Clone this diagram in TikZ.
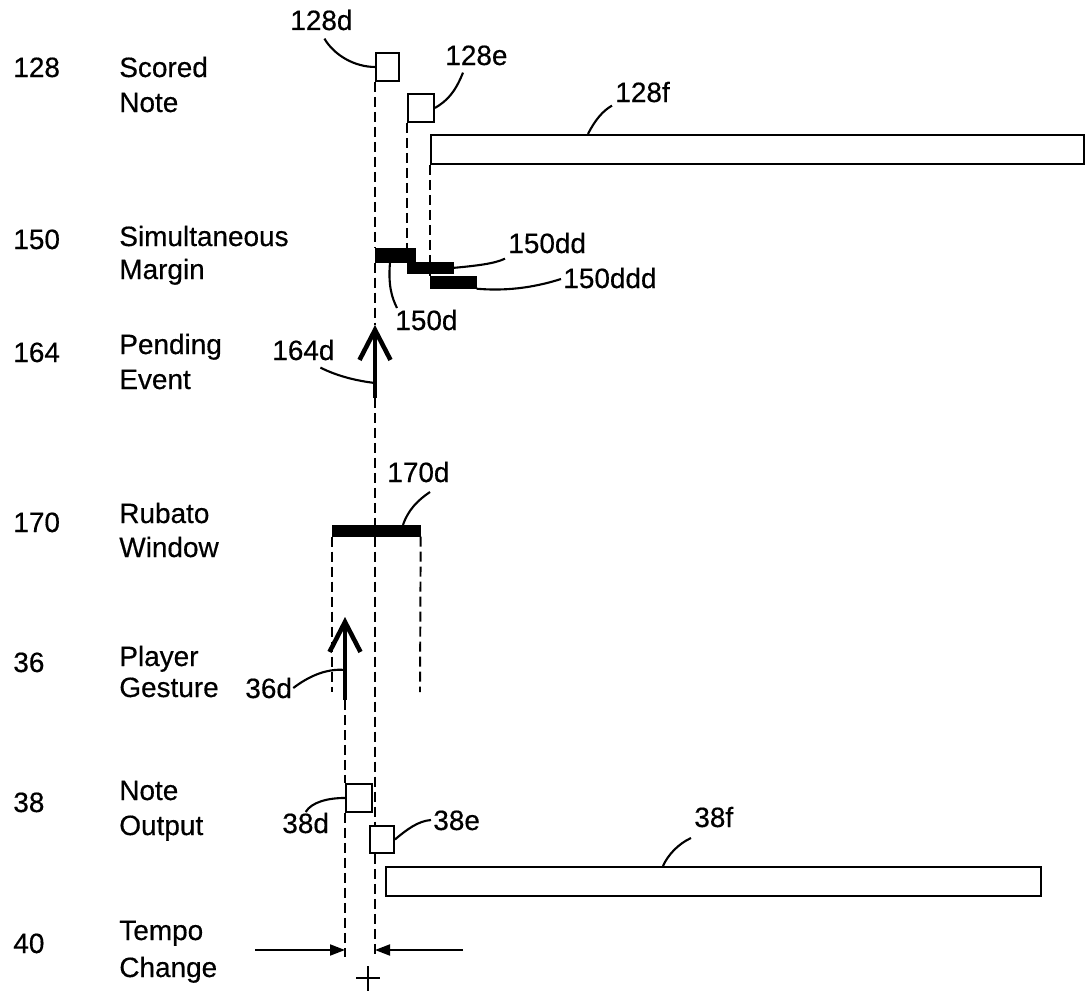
\documentclass[tikz,border=0pt]{standalone}
\usepackage{fontspec}
\setmainfont{Liberation Sans}[BoldFont=Liberation Sans, BoldFeatures={FakeBold=0.45}]
\usetikzlibrary{arrows.meta}

\newcommand\labsize{\fontsize{15.9}{19}\selectfont\bfseries}

\begin{document}
\begin{tikzpicture}[
  x=0.02cm, y=-0.02cm,
  lab/.style={font=\labsize, anchor=base west, inner sep=0pt},
  nbox/.style={draw, line width=1.1pt, inner sep=0pt, anchor=north west},
  bar/.style={draw, fill=black, inner sep=0pt, anchor=north west},
  tline/.style={line width=1.1pt, dash pattern=on 0.2cm off 0.1cm},
  evt/.style={line width=2.6pt, -{Straight Barb[length=0.6cm, width=0.62cm]}},
  tmp/.style={line width=1.1pt, -{Triangle[length=0.3cm, width=0.22cm]}},
  ldr/.style={line width=1.2pt}
]
\useasboundingbox (0,0) rectangle (1086,1004);

% row titles on the left
\foreach \n/\yn/\ta/\ya/\tb/\yb in {
  128/77/Scored/77/Note/112,
  150/249/Simultaneous/246/Margin/279,
  164/362/Pending/354/Event/389,
  170/532/Rubato/523/Window/557,
  36/672/Player/666/Gesture/697,
  38/812/Note/800/Output/835,
  40/953/Tempo/940/Change/977} {
  \node[lab] (num\n) at (13,\yn) {\n};
  \node[lab] (ta\n) at (119,\ya) {\ta};
  \node[lab] (tb\n) at (119,\yb) {\tb};
}

% notes, margins and window
\node[nbox, minimum width=0.46cm, minimum height=0.56cm] (n128d) at (375,52) {};
\node[nbox, minimum width=0.52cm, minimum height=0.56cm] (n128e) at (407,93) {};
\node[nbox, minimum width=13.06cm, minimum height=0.58cm] (n128f) at (430,134) {};
\node[bar, minimum width=0.8cm, minimum height=0.28cm] (n150d) at (375,248) {};
\node[bar, minimum width=0.92cm, minimum height=0.22cm] (n150dd) at (407,262) {};
\node[bar, minimum width=0.92cm, minimum height=0.24cm] (n150ddd) at (430,276) {};
\node[bar, minimum width=1.76cm, minimum height=0.22cm] (n170) at (332,525) {};
\node[nbox, minimum width=0.52cm, minimum height=0.56cm] (n38d) at (345,783) {};
\node[nbox, minimum width=0.48cm, minimum height=0.54cm] (n38e) at (369,825) {};
\node[nbox, minimum width=13.1cm, minimum height=0.58cm] (n38f) at (385,866) {};

\coordinate (t164) at (375,325);
\coordinate (e164) at (375,398);
\coordinate (p164) at (375,383);
\coordinate (t36) at (345,617);
\coordinate (e36) at (345,700);
\coordinate (p36) at (345,670);
\coordinate (wl) at (332,692);
\coordinate (wr) at (420,692);
\coordinate (ga) at (345,957);
\coordinate (gb) at (375,957);
\coordinate (ta) at (255,950);
\coordinate (tb) at (463,950);

% time lines
\draw[tline] (n128d.south west) -- (n150d.north west);
\draw[tline] (n150d.south west) -- (t164);
\draw[tline] (e164) -- (e164 |- n170.north);
\draw[tline] (e164 |- n170.south) -- (e164 |- n38e.north);
\draw[tline] (e164 |- n38e.south) -- (gb);
\draw[tline] (n128e.south west) -- (n150dd.north west);
\draw[tline] (n128f.south west) -- (n150ddd.north west);
\draw[tline] (n170.south west) -- (wl);
\draw[tline] (n170.south east) -- (wr);
\draw[tline] (e36) -- (n38d.north west);
\draw[tline] (n38d.south west) -- (ga);

% events and tempo change
\draw[evt] (e164) -- (t164);
\draw[evt] (e36) -- (t36);
\draw[tmp] (ta) -- (ga |- ta);
\draw[tmp] (tb) -- (gb |- tb);
\draw[line width=1.6pt] (356,978) -- (380,978) (368,966) -- (368,991);

% reference labels
\node[lab] (l128d) at (290,30) {128d};
\node[lab] (l128e) at (445,65) {128e};
\node[lab] (l128f) at (615,102) {128f};
\node[lab] (l150d) at (395,330) {150d};
\node[lab] (l150dd) at (508,253) {150dd};
\node[lab] (l150ddd) at (563,288) {150ddd};
\node[lab] (l164d) at (272,360) {164d};
\node[lab] (l170d) at (387,482) {170d};
\node[lab] (l36d) at (245,698) {36d};
\node[lab] (l38d) at (282,833) {38d};
\node[lab] (l38e) at (433,830) {38e};
\node[lab] (l38f) at (694,827) {38f};

\draw[ldr] ([shift={(3,8)}]l128d.south) .. controls +(10,17) and +(-20,0) .. (n128d.west);
\draw[ldr] ([shift={(18,7)}]l128e.south west) .. controls +(-8,20) and +(12,-7) .. (n128e.east);
\draw[ldr] ([shift={(158,0)}]n128f.north west) .. controls +(7,-14) and +(-9,5) .. ([shift={(-3,3)}]l128f.south west);
\draw[ldr] ([xshift=0.3cm]n150d.south west) .. controls +(-2,23) and +(-5,-10) .. ([shift={(2,-22)}]l150d.base west);
\draw[ldr] (n150dd.east) .. controls +(22,-2) and +(-10,5) .. ([shift={(-3,5)}]l150dd.south west);
\draw[ldr] (n150ddd.south east) .. controls +(34,3) and +(-22,7) .. ([shift={(-2,-9)}]l150ddd.base west);
\draw[ldr] ([shift={(17,7)}]l164d.south) .. controls +(18,9) and +(-17,-2) .. (p164);
\draw[ldr] ([xshift=1.42cm]n170.north west) .. controls +(5,-15) and +(-12,8) .. ([shift={(43,10)}]l170d.base west);
\draw[ldr] ([shift={(1,-10)}]l36d.base east) .. controls +(13,-10) and +(-20,-2) .. (p36);
\draw[ldr] ([shift={(0,-21)}]l38d.base) .. controls +(6,-10) and +(-17,0) .. (n38d.west);
\draw[ldr] (n38e.east) .. controls +(12,-10) and +(-13,1) .. ([shift={(-2,-10)}]l38e.base west);
\draw[ldr] ([xshift=5.56cm]n38f.north west) .. controls +(5,-11) and +(-13,6) .. ([shift={(-3,11)}]l38f.base west);
\end{tikzpicture}
\end{document}
